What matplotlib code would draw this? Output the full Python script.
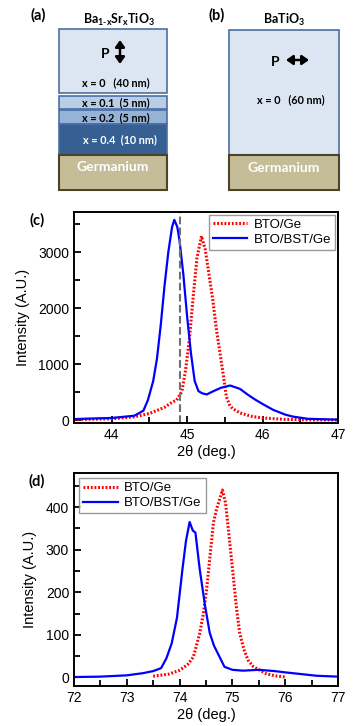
import numpy as np
import matplotlib
matplotlib.use('Agg')
import matplotlib.pyplot as plt
from matplotlib.patches import Rectangle
from matplotlib.ticker import MultipleLocator

plt.rcParams['font.family'] = 'Liberation Sans'
plt.rcParams['mathtext.fontset'] = 'custom'
plt.rcParams['mathtext.rm'] = 'Lato'
plt.rcParams['mathtext.bf'] = 'Lato:bold'

# (c) XRD around 45 deg
c_bto_x = [43.5, 44.0, 44.3, 44.5, 44.7, 44.8, 44.86, 44.93, 44.98, 45.03, 45.08, 45.13,
           45.19, 45.24, 45.29, 45.34, 45.39, 45.43, 45.48, 45.52, 45.56, 45.6, 45.7,
           45.85, 46.0, 46.3, 46.7, 47.0]
c_bto_y = [10, 25, 60, 120, 230, 320, 360, 510, 900, 1450, 2200, 2900,
           3290, 3050, 2600, 2150, 1600, 1250, 800, 420, 280, 210, 130,
           70, 40, 15, 5, 5]
c_bst_x = [43.5, 44.0, 44.3, 44.42, 44.48, 44.55, 44.6, 44.65, 44.7, 44.75, 44.8, 44.83,
           44.87, 44.9, 44.95, 45.0, 45.05, 45.1, 45.15, 45.2, 45.26, 45.35, 45.45,
           45.57, 45.7, 45.8, 45.9, 46.0, 46.14, 46.3, 46.4, 46.6, 47.0]
c_bst_y = [20, 40, 80, 170, 360, 700, 1100, 1700, 2400, 3000, 3450, 3580,
           3450, 3200, 2600, 1850, 1200, 700, 520, 480, 460, 520, 580,
           620, 560, 460, 370, 290, 185, 100, 65, 25, 10]
c_ref_line = 44.9

# (d) XRD around 74.5 deg
d_bto_x = [73.5, 73.8, 74.0, 74.15, 74.26, 74.38, 74.45, 74.51, 74.58, 74.64, 74.7, 74.75,
           74.81, 74.87, 74.93, 75.01, 75.08, 75.14, 75.22, 75.3, 75.4, 75.52, 75.64,
           75.8, 76.0]
d_bto_y = [3, 8, 17, 30, 48, 103, 150, 205, 290, 363, 395, 415,
           440, 410, 340, 245, 160, 103, 65, 40, 25, 17, 9,
           4, 1]
d_bst_x = [72.0, 72.5, 73.0, 73.3, 73.5, 73.65, 73.75, 73.85, 73.95, 74.05, 74.12, 74.19,
           74.25, 74.3, 74.38, 74.48, 74.57, 74.65, 74.75, 74.85, 75.0, 75.2, 75.5,
           75.8, 76.0, 76.3, 76.6, 77.0]
d_bst_y = [1, 2, 5, 10, 15, 22, 45, 80, 140, 250, 320, 365,
           345, 340, 255, 170, 105, 75, 50, 25, 18, 16, 18,
           15, 12, 8, 4, 2]

labels = ['BTO/Ge', 'BTO/BST/Ge']

fig = plt.figure(figsize=(3.54, 7.26), dpi=100)

# ---- schematic panels (a) and (b), drawn in pixel coordinates ----
ax0 = fig.add_axes([0, 1 - 200 / 726, 1, 200 / 726])
ax0.set_xlim(0, 354)
ax0.set_ylim(200, 0)
ax0.axis('off')

edge = '#4a6fa5'
ge_edge = '#4a452a'
layers = [  # y0, y1, fill
    (29, 93, '#dce6f2'),
    (96, 109, '#b9cde5'),
    (110, 124, '#95b3d7'),
    (124, 155, '#366092'),
]
for y0, y1, fc in layers:
    ax0.add_patch(Rectangle((59, y0), 108, y1 - y0, fc=fc, ec=edge, lw=1.2))
ax0.add_patch(Rectangle((59, 155), 108, 35, fc='#c4bd97', ec=ge_edge, lw=1.5))
ax0.add_patch(Rectangle((229, 30), 110, 125, fc='#dce6f2', ec=edge, lw=1.2))
ax0.add_patch(Rectangle((229, 155), 110, 35, fc='#c4bd97', ec=ge_edge, lw=1.5))

tkw = dict(family='Lato', fontweight='bold', ha='center', va='center')
ax0.text(38, 15, '(a)', fontsize=10.5, **tkw)
ax0.text(217, 15, '(b)', fontsize=10.5, **tkw)
ax0.text(119, 20, r'Ba$_{\mathbf{1\text{-}x}}$Sr$_{\mathbf{x}}$TiO$_{\mathbf{3}}$', fontsize=9, **tkw)
ax0.text(284, 20, r'BaTiO$_{\mathbf{3}}$', fontsize=9, **tkw)

arrow = dict(arrowstyle='<|-|>,head_length=0.5,head_width=0.35', color='black',
             lw=1.8, mutation_scale=8, shrinkA=0, shrinkB=0)
ax0.text(105, 54, 'P', fontsize=10, **tkw)
ax0.annotate('', xy=(120, 64), xytext=(120, 40), arrowprops=arrow)
ax0.text(275, 62, 'P', fontsize=10, **tkw)
ax0.annotate('', xy=(309, 60), xytext=(286, 60), arrowprops=arrow)

ax0.text(116, 83, 'x = 0   (40 nm)', fontsize=7.8, **tkw)
ax0.text(116, 103, 'x = 0.1  (5 nm)', fontsize=7.8, **tkw)
ax0.text(116, 118, 'x = 0.2  (5 nm)', fontsize=7.8, **tkw)
ax0.text(120, 140, 'x = 0.4  (10 nm)', fontsize=7.8, color='white', **tkw)
ax0.text(113, 167, 'Germanium', fontsize=10, color='white', **tkw)
ax0.text(291, 100, 'x = 0   (60 nm)', fontsize=7.8, **tkw)
ax0.text(284, 168, 'Germanium', fontsize=10, color='white', **tkw)


def style_axis(ax, xmaj, xmin, ymaj, ymin):
    ax.xaxis.set_major_locator(MultipleLocator(xmaj))
    ax.xaxis.set_minor_locator(MultipleLocator(xmin))
    ax.yaxis.set_major_locator(MultipleLocator(ymaj))
    ax.yaxis.set_minor_locator(MultipleLocator(ymin))
    ax.tick_params(which='both', direction='in', width=1.3, labelsize=10)
    ax.tick_params(which='major', length=5)
    ax.tick_params(which='minor', length=4)
    for s in ax.spines.values():
        s.set_linewidth(1.4)
    ax.set_xlabel('2θ (deg.)', fontsize=10.5, labelpad=2)
    ax.set_ylabel('Intensity (A.U.)', fontsize=10.5, labelpad=6)


dots = (0, (0.6, 0.6))

# ---- (c) ----
axc = fig.add_axes([74 / 354, 1 - 423 / 726, 264 / 354, 211 / 726])
axc.plot(c_bto_x, c_bto_y, color='red', ls=dots, lw=2.2, label=labels[0])
axc.plot(c_bst_x, c_bst_y, color='blue', lw=1.6, label=labels[1])
axc.axvline(c_ref_line, color='#707070', ls='--', lw=1.5)
axc.set_xlim(43.5, 47)
axc.set_ylim(-50, 3720)
style_axis(axc, 1, 0.5, 1000, 500)
axc.legend(loc='upper right', fontsize=9.5, frameon=True, fancybox=False,
           edgecolor='#808080', borderpad=0.3, handlelength=2.6, handletextpad=0.5,
           labelspacing=0.2, borderaxespad=0.2)
axc.text(-0.14, 0.96, '(c)', transform=axc.transAxes, family='Lato',
         fontweight='bold', fontsize=10.5, ha='center', va='center')

# ---- (d) ----
axd = fig.add_axes([74 / 354, 1 - 686 / 726, 264 / 354, 213 / 726])
axd.plot(d_bto_x, d_bto_y, color='red', ls=dots, lw=2.2, label=labels[0])
axd.plot(d_bst_x, d_bst_y, color='blue', lw=1.6, label=labels[1])
axd.set_xlim(72, 77)
axd.set_ylim(-20, 480)
style_axis(axd, 1, 0.5, 100, 50)
axd.legend(loc='upper left', fontsize=9.5, frameon=True, fancybox=False,
           edgecolor='#808080', borderpad=0.3, handlelength=2.6, handletextpad=0.5,
           labelspacing=0.2, borderaxespad=0.4)
axd.text(-0.14, 0.96, '(d)', transform=axd.transAxes, family='Lato',
         fontweight='bold', fontsize=10.5, ha='center', va='center')

plt.savefig('out.png', dpi=100)
